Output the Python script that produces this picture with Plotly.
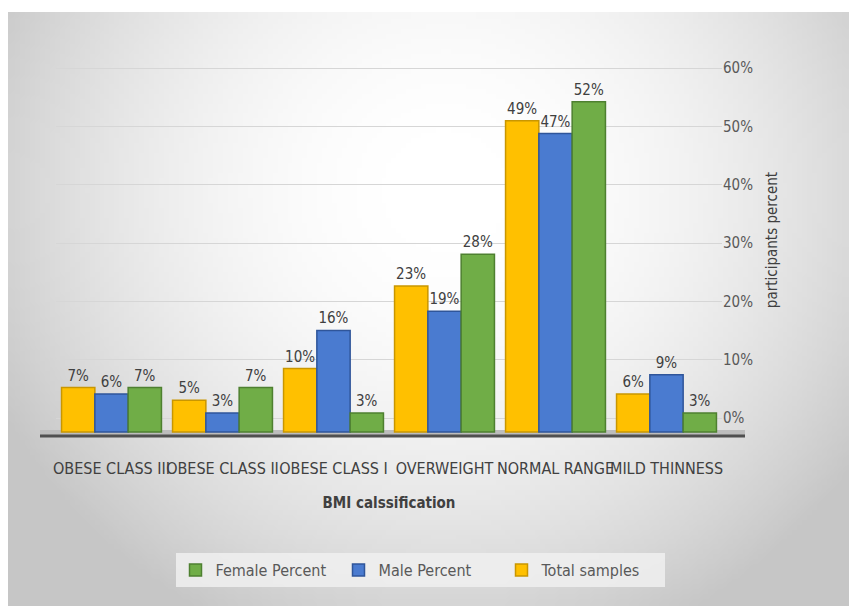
import plotly.graph_objects as go
import zlib, struct, base64, math

categories = ["OBESE CLASS III", "OBESE CLASS II", "OBESE CLASS I", "OVERWEIGHT", "NORMAL RANGE", "MILD THINNESS"]
total_samples = [7, 5, 10, 23, 49, 6]
male_percent = [6, 3, 16, 19, 47, 9]
female_percent = [7, 7, 3, 28, 52, 3]
tick_values = [0, 10, 20, 30, 40, 50, 60]
tick_labels = ["0%", "10%", "20%", "30%", "40%", "50%", "60%"]

W, H = 849, 606
L, R, T, B = 56, 127, 40, 166  # plot area 56..722 x, 40..440 y


def make_png(w, h):
    rows = []
    for j in range(h):
        v = j / (h - 1)
        row = bytearray([0])
        for i in range(w):
            u = i / (w - 1)
            d = math.sqrt(((u - 0.52) / 0.62) ** 2 + ((v - 0.30) / 0.85) ** 2)
            c = int(max(198, min(255, 256 - 62 * d * d)))
            row += bytes([c, c, c])
        rows.append(bytes(row))
    raw = b"".join(rows)

    def chunk(t, data):
        c = struct.pack(">I", len(data)) + t + data
        return c + struct.pack(">I", zlib.crc32(t + data) & 0xffffffff)

    png = b"\x89PNG\r\n\x1a\n" + chunk(b"IHDR", struct.pack(">IIBBBBB", w, h, 8, 2, 0, 0, 0))
    png += chunk(b"IDAT", zlib.compress(raw, 9)) + chunk(b"IEND", b"")
    return "data:image/png;base64," + base64.b64encode(png).decode()


bg = make_png(170, 120)

pw = W - L - R
ph = H - T - B


def px(x):
    return (x - L) / pw


def py(y):
    return (H - B - y) / ph


font_main = "Liberation Sans Narrow, DejaVu Sans Condensed, Arial Narrow, sans-serif"

fig = go.Figure()
series = [
    ("Total samples", total_samples, "#FFC000", "#C99600"),
    ("Male Percent", male_percent, "#4A7BD0", "#2F559A"),
    ("Female Percent", female_percent, "#70AD47", "#4E8030"),
]
for name, vals, col, edge in series:
    fig.add_trace(go.Bar(
        x=categories, y=vals, name=name,
        marker=dict(color=col, line=dict(color=edge, width=1.5)),
        text=[f"{v}%" for v in vals], textposition="outside",
        textfont=dict(size=15, color="#404040", family=font_main),
        cliponaxis=False,
    ))

# bar scale: 0 at y=432px, 6.35 px per %
bar_lo = -(H - B - 432) / 6.35
bar_hi = (432 - T) / 6.35
# tick scale: 0 at y=418px, 5.833 px per %
tk_lo = -(H - B - 418) / 5.833
tk_hi = (418 - T) / 5.833

fig.update_layout(
    width=W, height=H,
    margin=dict(l=L, r=R, t=T, b=B),
    paper_bgcolor="white",
    plot_bgcolor="rgba(0,0,0,0)",
    barmode="group", bargap=0.1, bargroupgap=0,
    font=dict(family=font_main, color="#404040"),
    images=[dict(source=bg, xref="paper", yref="paper",
                 x=px(8), y=py(12), sizex=px(W) - px(8), sizey=py(12) - py(H),
                 xanchor="left", yanchor="top", sizing="stretch", layer="below")],
    xaxis=dict(
        tickangle=0, tickfont=dict(size=16, color="#404040"),
        ticks="outside", ticklen=14, tickcolor="rgba(0,0,0,0)",
        showline=False, showgrid=False,
        title=dict(text="<b>BMI calssification</b>", font=dict(size=15, color="#404040"), standoff=20),
    ),
    yaxis=dict(range=[bar_lo, bar_hi], showticklabels=False, showgrid=False, zeroline=False),
    yaxis2=dict(
        overlaying="y", side="right", range=[tk_lo, tk_hi],
        tickmode="array", tickvals=tick_values, ticktext=tick_labels,
        tickfont=dict(size=15, color="#595959"),
        showgrid=True, gridcolor="#d6d6d6", gridwidth=1, zeroline=False,
        title=dict(text="participants percent", font=dict(size=15, color="#404040"), standoff=14),
    ),
    legend=dict(
        orientation="h", traceorder="reversed",
        x=px(420), xanchor="center", y=py(553), yanchor="top",
        bgcolor="rgba(240,240,240,0.85)",
        font=dict(size=16, color="#595959"),
        entrywidth=118,
    ),
    shapes=[
        dict(type="rect", xref="paper", yref="paper", x0=px(40), x1=px(745), y0=py(437), y1=py(430),
             fillcolor="#bdbdbd", line=dict(width=0), layer="below"),
        dict(type="line", xref="paper", yref="paper", x0=px(40), x1=px(745), y0=py(436), y1=py(436),
             line=dict(color="#505050", width=3)),
    ],
)
# invisible trace to activate yaxis2 ticks/grid
fig.add_trace(go.Scatter(x=[categories[0]], y=[0], yaxis="y2", mode="markers",
                         marker=dict(opacity=0), showlegend=False, hoverinfo="skip"))

fig.write_html("out.html")
